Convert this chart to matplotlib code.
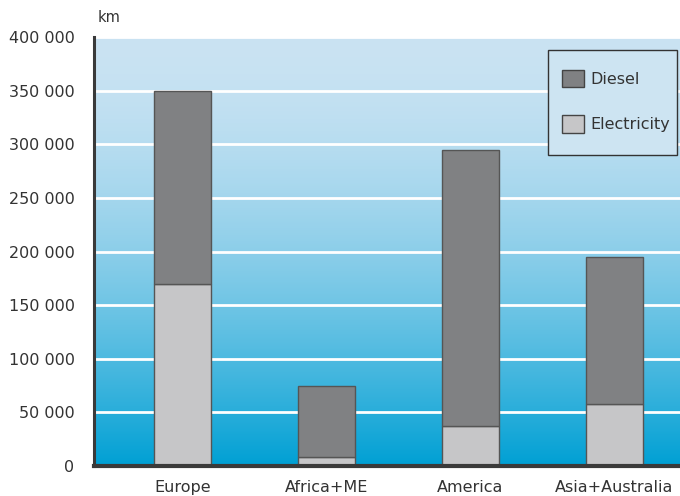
import numpy as np
import matplotlib.pyplot as plt
from matplotlib.colors import to_rgb
from matplotlib.patches import Patch, Rectangle

regions = ["Europe", "Africa+ME", "America", "Asia+Australia"]
electricity = [170000, 8000, 37000, 58000]
diesel = [180000, 67000, 258000, 137000]
yticks = [0, 50000, 100000, 150000, 200000, 250000, 300000, 350000, 400000]

W, H = 680, 496
fig = plt.figure(figsize=(W / 100, H / 100), dpi=100)
ax = fig.add_axes([94 / W, 30 / H, 586 / W, 429 / H])

x = np.arange(len(regions))
ax.set_xlim(-0.615, 3.455)

# vertical background gradient, light at the top, deep blue at the bottom
top = np.array(to_rgb("#cae3f3"))
bottom = np.array(to_rgb("#00a0d4"))
s = np.linspace(0, 1, 256) ** 1.7
grad = top[None, :] + (bottom - top)[None, :] * s[:, None]
ax.imshow(grad[:, None, :], aspect="auto", extent=[-0.615, 3.455, 0, 400000],
          origin="upper", zorder=0)
ax.set_ylim(0, 400000)

for yv in yticks[1:]:
    ax.axhline(yv, color="white", lw=2, zorder=1)

ax.bar(x, electricity, width=57 / 144, color="#c6c6c8", edgecolor="#555555",
       lw=1, zorder=2, label="Electricity")
ax.bar(x, diesel, width=57 / 144, bottom=electricity, color="#808183",
       edgecolor="#555555", lw=1, zorder=2, label="Diesel")

for side in ["top", "right"]:
    ax.spines[side].set_visible(False)
ax.spines["left"].set_color("#3a3a3a")
ax.spines["left"].set_linewidth(2.2)
ax.spines["bottom"].set_color("#3a3a3a")
ax.spines["bottom"].set_linewidth(3)
ax.spines["bottom"].set_zorder(3)

ax.set_yticks(yticks)
ax.set_yticklabels([f"{v:,}".replace(",", " ") for v in yticks],
                   fontsize=11.5, color="#333333")
ax.set_xticks(x)
ax.set_xticklabels(regions, fontsize=11.5, color="#333333")
ax.tick_params(axis="both", length=0)
ax.tick_params(axis="y", pad=14)
ax.tick_params(axis="x", pad=10)

fig.text(98 / W, 1 - 18 / H, "km", fontsize=10.5, color="#333333",
         va="center", ha="left")

# legend box drawn separately so its padding can be taller than it is wide
fig.add_artist(Rectangle((548 / W, 1 - 155 / H), 129 / W, 105 / H,
                         transform=fig.transFigure, facecolor="#cde4f2",
                         edgecolor="#333333", lw=1, zorder=4))
handles = [Patch(facecolor="#808183", edgecolor="#444444", label="Diesel"),
           Patch(facecolor="#c6c6c8", edgecolor="#444444", label="Electricity")]
leg = fig.legend(handles=handles, loc="upper left",
                 bbox_to_anchor=(562 / W, 1 - 70 / H), fontsize=11.5,
                 frameon=False, borderpad=0, labelspacing=1.75,
                 handlelength=1.35, handleheight=1.3, handletextpad=0.45,
                 borderaxespad=0)
leg.set_zorder(5)
for t in leg.get_texts():
    t.set_color("#333333")

fig.savefig("out.png", dpi=100)
